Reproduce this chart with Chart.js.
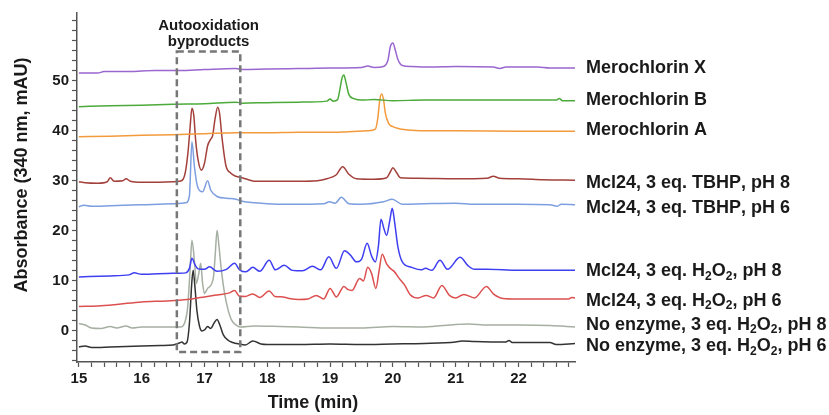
<!DOCTYPE html>
<html>
<head>
  <meta charset="UTF-8">
  <title>Mcl24 HPLC traces</title>
  <script src="https://cdn.jsdelivr.net/npm/chart.js"></script>
  <style>
    html, body {
      margin: 0;
      padding: 0;
      background: #fff;
    }
    .chart-container {
      position: relative;
      width: 829px;
      height: 415px;
    }
  </style>
</head>
<body>
  <div class="chart-container">
    <canvas id="hplcChart"></canvas>
  </div>

  <script>
    // trace labels, top to bottom
    const traceNames = [
      'Merochlorin X',
      'Merochlorin B',
      'Merochlorin A',
      'Mcl24, 3 eq. TBHP, pH 8',
      'Mcl24, 3 eq. TBHP, pH 6',
      'Mcl24, 3 eq. H₂O₂, pH 8',
      'Mcl24, 3 eq. H₂O₂, pH 6',
      'No enzyme, 3 eq. H₂O₂, pH 8',
      'No enzyme, 3 eq. H₂O₂, pH 6'
    ];

    // retention time (min) and absorbance (mAU, stacked offset included)
    const merochlorinXTime = [15.0, 15.3, 15.4, 15.8, 16.2, 16.6, 17.0, 17.5, 17.6, 18.0, 18.5, 19.0, 19.5, 19.6, 19.7, 19.85, 19.92, 19.96, 20.0, 20.04, 20.08, 20.15, 20.3, 20.6, 21.0, 21.6, 21.7, 21.8, 22.3, 22.5, 22.9];
    const merochlorinXAbs = [51.5, 51.5, 51.8, 51.8, 52.0, 52.0, 52.2, 52.4, 52.2, 52.3, 52.4, 52.5, 52.6, 52.9, 52.6, 52.8, 54.0, 56.8, 57.5, 56.0, 54.2, 53.0, 52.8, 52.7, 52.8, 52.7, 52.4, 52.7, 52.7, 52.5, 52.5];

    const merochlorinBTime = [15.0, 15.5, 16.0, 16.5, 17.0, 17.5, 17.6, 18.0, 18.5, 18.95, 19.0, 19.05, 19.12, 19.16, 19.19, 19.22, 19.25, 19.3, 19.38, 19.5, 19.7, 20.0, 20.5, 21.0, 22.0, 22.6, 22.65, 22.7, 22.9];
    const merochlorinBAbs = [44.8, 45.0, 45.1, 45.3, 45.4, 45.7, 45.5, 45.6, 45.7, 45.9, 46.3, 45.9, 46.2, 48.5, 50.5, 51.1, 49.8, 47.2, 46.4, 46.1, 46.2, 46.0, 46.1, 46.1, 46.1, 46.1, 46.4, 46.0, 46.0];

    const merochlorinATime = [15.0, 15.5, 16.0, 16.5, 17.0, 17.5, 18.0, 18.5, 19.0, 19.3, 19.6, 19.72, 19.76, 19.79, 19.82, 19.85, 19.88, 19.93, 20.0, 20.1, 20.3, 20.6, 21.0, 22.0, 22.9];
    const merochlorinAAbs = [38.8, 38.9, 39.1, 39.2, 39.4, 39.6, 39.6, 39.7, 39.7, 39.8, 40.0, 40.3, 42.5, 46.0, 47.3, 46.3, 43.5, 41.5, 40.8, 40.4, 40.1, 40.0, 40.0, 39.9, 39.9];

    const tbhp8Time = [15.0, 15.1, 15.3, 15.45, 15.5, 15.56, 15.7, 15.75, 15.82, 16.0, 16.5, 16.6, 16.66, 16.7, 16.74, 16.77, 16.8, 16.83, 16.86, 16.9, 16.95, 17.0, 17.05, 17.1, 17.13, 17.17, 17.21, 17.24, 17.28, 17.34, 17.42, 17.5, 17.6, 17.7, 17.8, 18.0, 18.5, 18.8, 18.95, 19.1, 19.2, 19.3, 19.42, 19.7, 19.9, 19.96, 20.0, 20.05, 20.12, 20.4, 21.0, 21.5, 21.6, 21.7, 22.0, 22.4, 22.9];
    const tbhp8Abs = [29.8, 29.6, 29.5, 29.8, 30.6, 29.9, 30.0, 30.4, 29.9, 29.7, 29.8, 29.9, 30.3, 32.0, 36.0, 40.5, 44.5, 43.0, 38.0, 34.0, 32.1, 33.5, 37.0, 38.3, 39.0, 42.5, 44.7, 43.5, 38.5, 33.1, 31.5, 30.9, 30.6, 30.2, 29.9, 29.9, 29.9, 30.0, 30.4, 31.2, 32.8, 31.3, 30.4, 30.3, 30.6, 31.8, 32.6, 31.8, 30.6, 30.5, 30.4, 30.5, 30.9, 30.5, 30.4, 30.2, 30.1];

    const tbhp6Time = [15.0, 15.08, 15.2, 15.5, 16.0, 16.5, 16.7, 16.76, 16.8, 16.84, 16.89, 16.97, 17.05, 17.1, 17.21, 17.35, 17.5, 17.6, 17.8, 18.0, 18.35, 18.9, 18.99, 19.08, 19.18, 19.3, 19.5, 19.85, 19.99, 20.15, 20.5, 21.0, 21.3, 22.0, 22.5, 22.62, 22.68, 22.9];
    const tbhp6Abs = [24.8, 25.1, 24.9, 25.0, 25.2, 25.4, 25.6, 27.0, 37.8, 32.8, 28.8, 27.8, 30.0, 28.1, 26.8, 26.5, 26.3, 25.9, 25.6, 25.4, 25.3, 25.4, 25.8, 25.5, 26.7, 25.4, 25.3, 25.8, 26.3, 25.3, 25.4, 25.5, 25.3, 25.3, 25.2, 24.9, 25.3, 25.2];

    const h2o2pH8Time = [15.0, 15.5, 15.8, 15.88, 16.0, 16.5, 16.7, 16.76, 16.8, 16.85, 16.9, 17.0, 17.08, 17.2, 17.35, 17.48, 17.56, 17.66, 17.77, 17.88, 18.03, 18.13, 18.27, 18.4, 18.56, 18.72, 18.85, 18.98, 19.1, 19.23, 19.32, 19.42, 19.5, 19.59, 19.66, 19.72, 19.77, 19.81, 19.86, 19.9, 19.95, 19.99, 20.03, 20.08, 20.15, 20.3, 20.45, 20.52, 20.62, 20.75, 20.87, 21.07, 21.2, 21.3, 21.5, 22.0, 22.9];
    const h2o2pH8Abs = [10.8, 11.0, 11.2, 11.6, 11.3, 11.5, 11.6, 12.5, 14.5, 13.2, 12.4, 12.3, 12.8, 11.9, 12.3, 13.5, 12.2, 11.8, 12.7, 11.9, 14.1, 12.2, 13.1, 12.1, 12.0, 12.9, 12.2, 14.8, 12.5, 16.0, 15.2, 13.8, 14.3, 17.5, 15.0, 13.8, 17.0, 22.3, 20.3, 19.1, 22.0, 24.5, 21.5, 16.8, 13.8, 12.7, 12.2, 12.5, 12.1, 14.1, 12.3, 14.7, 13.0, 12.3, 12.3, 12.1, 12.1];

    const h2o2pH6Time = [15.0, 15.3, 15.6, 16.0, 16.4, 16.8, 17.0, 17.2, 17.4, 17.48, 17.55, 17.65, 17.77, 17.88, 18.03, 18.12, 18.25, 18.35, 18.5, 18.65, 18.78, 18.9, 19.0, 19.1, 19.22, 19.28, 19.35, 19.47, 19.53, 19.6, 19.66, 19.73, 19.78, 19.83, 19.9, 19.95, 20.02, 20.1, 20.18, 20.28, 20.4, 20.53, 20.65, 20.78, 20.9, 21.0, 21.13, 21.3, 21.49, 21.6, 21.75, 22.0, 22.5, 22.8, 22.85, 22.9];
    const h2o2pH6Abs = [4.9, 5.0, 5.3, 5.8, 6.0, 6.4, 6.8, 7.2, 7.6, 8.1, 7.0, 6.9, 7.4, 6.7, 8.0, 6.9, 6.8, 6.5, 6.3, 6.4, 7.1, 6.4, 8.5, 6.8, 8.9, 8.3, 8.1, 10.5, 10.0, 12.7, 11.5, 8.5, 12.0, 15.3, 13.4, 12.6, 11.9, 10.5, 9.3, 7.2, 6.6, 7.1, 6.6, 9.1, 7.1, 6.6, 7.3, 6.6, 8.9, 7.4, 6.5, 6.4, 6.4, 6.4, 6.7, 6.6];

    const noEnz8Time = [15.0, 15.1, 15.2, 15.35, 15.5, 15.6, 15.75, 15.85, 16.0, 16.3, 16.62, 16.68, 16.73, 16.77, 16.8, 16.84, 16.87, 16.91, 16.94, 16.97, 17.0, 17.05, 17.14, 17.17, 17.2, 17.23, 17.27, 17.32, 17.37, 17.43, 17.5, 17.57, 17.8, 18.2, 18.5, 19.0, 19.5, 20.0, 20.5, 21.0, 21.2, 21.5, 22.0, 22.5, 22.9];
    const noEnz8Abs = [1.5, 1.2, 0.6, 0.5, 0.9, 0.6, 1.0, 0.6, 0.8, 0.8, 0.8, 1.5, 4.5, 12.0, 18.1, 14.0, 9.5, 11.5, 13.5, 9.5, 7.5, 8.5, 10.5, 15.0, 20.1, 17.0, 12.0, 7.5, 4.5, 2.2, 1.2, 0.8, 1.0, 0.9, 0.8, 0.6, 0.6, 0.9, 0.8, 1.3, 1.4, 1.2, 1.2, 1.1, 0.8];

    const noEnz6Time = [15.0, 15.1, 15.2, 15.5, 16.0, 16.3, 16.5, 16.6, 16.64, 16.68, 16.72, 16.76, 16.8, 16.82, 16.85, 16.88, 16.92, 16.96, 17.0, 17.05, 17.1, 17.15, 17.2, 17.25, 17.3, 17.38, 17.45, 17.55, 17.65, 17.77, 17.9, 18.0, 18.5, 19.0, 19.5, 20.0, 20.5, 21.0, 21.1, 21.3, 21.8, 21.85, 21.9, 22.5, 22.6, 22.9];
    const noEnz6Abs = [-3.2, -3.0, -3.3, -3.2, -3.0, -2.9, -2.8, -2.4, -2.2, -2.6, -2.3, 1.5, 10.0, 12.1, 8.5, 4.0, 1.0, 0.0, 0.2, 0.9, 0.5, 1.5, 2.3, 1.0, -0.8, -1.9, -2.3, -2.6, -2.8, -2.0, -2.6, -2.7, -2.7, -2.6, -2.7, -2.6, -2.5, -2.2, -2.0, -2.1, -2.2, -1.9, -2.3, -2.3, -2.7, -2.5];

    // autooxidation window (min) and its vertical extent (mAU)
    const byproductWindow = [16.56, 17.57];
    const byproductRange = [-4.2, 55.8];

    const traceTimes = [merochlorinXTime, merochlorinBTime, merochlorinATime, tbhp8Time, tbhp6Time, h2o2pH8Time, h2o2pH6Time, noEnz8Time, noEnz6Time];
    const traceAbs = [merochlorinXAbs, merochlorinBAbs, merochlorinAAbs, tbhp8Abs, tbhp6Abs, h2o2pH8Abs, h2o2pH6Abs, noEnz8Abs, noEnz6Abs];
    const traceColors = ['#9a66d0', '#4caa3a', '#f39a3c', '#a4403c', '#7d9fe0', '#3f3ff2', '#dc5050', '#a6afa2', '#333333'];
    // small vertical nudges (px) so the names sit like in the figure
    const labelNudge = [0, -1, -1, 3, 3, 1, 3, -2, 3];

    const FONT = "'Liberation Sans', Arial, Helvetica, sans-serif";

    const datasets = traceNames.map((name, i) => ({
      label: name,
      data: traceTimes[i].map((t, j) => ({ x: t, y: traceAbs[i][j] })),
      borderColor: traceColors[i],
      borderWidth: 1.5,
      pointRadius: 0,
      cubicInterpolationMode: 'monotone',
      fill: false
    }));

    // draw text where ₂ is rendered as a real subscript 2
    function drawRichText(ctx, text, x, y, size) {
      let cx = x;
      for (const ch of text) {
        if (ch === '₂') {
          ctx.font = `bold ${Math.round(size * 0.65)}px ${FONT}`;
          ctx.fillText('2', cx, y + size * 0.28);
          cx += ctx.measureText('2').width;
        } else {
          ctx.font = `bold ${size}px ${FONT}`;
          ctx.fillText(ch, cx, y);
          cx += ctx.measureText(ch).width;
        }
      }
    }

    const overlayPlugin = {
      id: 'overlay',
      afterDatasetsDraw(chart) {
        const { ctx, chartArea, scales: { x, y } } = chart;
        ctx.save();

        // dashed box around the autooxidation byproducts
        const x0 = x.getPixelForValue(byproductWindow[0]);
        const x1 = x.getPixelForValue(byproductWindow[1]);
        const y0 = y.getPixelForValue(byproductRange[1]);
        const y1 = y.getPixelForValue(byproductRange[0]);
        ctx.strokeStyle = '#777';
        ctx.lineWidth = 2.5;
        ctx.setLineDash([7, 4]);
        ctx.strokeRect(x0, y0, x1 - x0, y1 - y0);
        ctx.setLineDash([]);

        ctx.fillStyle = '#1a1a1a';
        ctx.textAlign = 'center';
        ctx.textBaseline = 'alphabetic';
        ctx.font = `bold 15px ${FONT}`;
        const cx = (x0 + x1) / 2;
        ctx.fillText('Autooxidation', cx, 29.5);
        ctx.fillText('byproducts', cx, 45.5);

        // trace names at the right end of each trace
        ctx.textAlign = 'left';
        ctx.textBaseline = 'middle';
        traceNames.forEach((name, i) => {
          const vals = traceAbs[i];
          const py = y.getPixelForValue(vals[vals.length - 1]) + labelNudge[i];
          drawRichText(ctx, name, chartArea.right + 11, py, 18);
        });

        // axis titles
        ctx.font = `bold 18px ${FONT}`;
        ctx.textAlign = 'center';
        ctx.fillText('Time (min)', 313, 403);
        ctx.translate(22, 175);
        ctx.rotate(-Math.PI / 2);
        ctx.fillText('Absorbance (340 nm, mAU)', 0, 0);

        ctx.restore();
      }
    };

    // keep only ticks that fall on the minor step
    function onStep(step) {
      return scale => {
        scale.ticks = scale.ticks.filter(t => Math.abs(t.value / step - Math.round(t.value / step)) < 1e-6);
      };
    }

    const ctx = document.getElementById('hplcChart').getContext('2d');
    const hplcChart = new Chart(ctx, {
      type: 'line',
      data: { datasets },
      plugins: [overlayPlugin],
      options: {
        responsive: true,
        maintainAspectRatio: false,
        animation: false,
        layout: {
          padding: { left: 0, top: 13, right: 254, bottom: 0 }
        },
        plugins: {
          legend: { display: false },
          tooltip: { enabled: false }
        },
        scales: {
          x: {
            type: 'linear',
            min: 14.97,
            max: 22.9,
            border: { color: '#555', width: 1.5 },
            grid: { drawOnChartArea: false, color: '#555', tickLength: 5, tickWidth: 1.2 },
            afterBuildTicks: onStep(0.2),
            afterFit: s => { s.height = 53; },
            ticks: {
              stepSize: 0.2,
              includeBounds: false,
              autoSkip: false,
              maxRotation: 0,
              padding: 3,
              color: '#1a1a1a',
              font: { family: FONT, size: 15, weight: 'bold' },
              callback: v => (Math.abs(v - Math.round(v)) < 1e-6 ? String(Math.round(v)) : '')
            }
          },
          y: {
            min: -6.2,
            max: 63.5,
            border: { color: '#555', width: 1.5 },
            grid: { drawOnChartArea: false, color: '#555', tickLength: 5, tickWidth: 1.2 },
            afterBuildTicks: onStep(2),
            afterFit: s => { s.width = 77; },
            ticks: {
              stepSize: 2,
              includeBounds: false,
              autoSkip: false,
              padding: 3,
              color: '#1a1a1a',
              font: { family: FONT, size: 15, weight: 'bold' },
              callback: v => (Math.abs(v % 10) < 1e-6 && v >= 0 && v <= 50 ? String(Math.round(v)) : '')
            }
          }
        }
      }
    });
  </script>
</body>
</html>
